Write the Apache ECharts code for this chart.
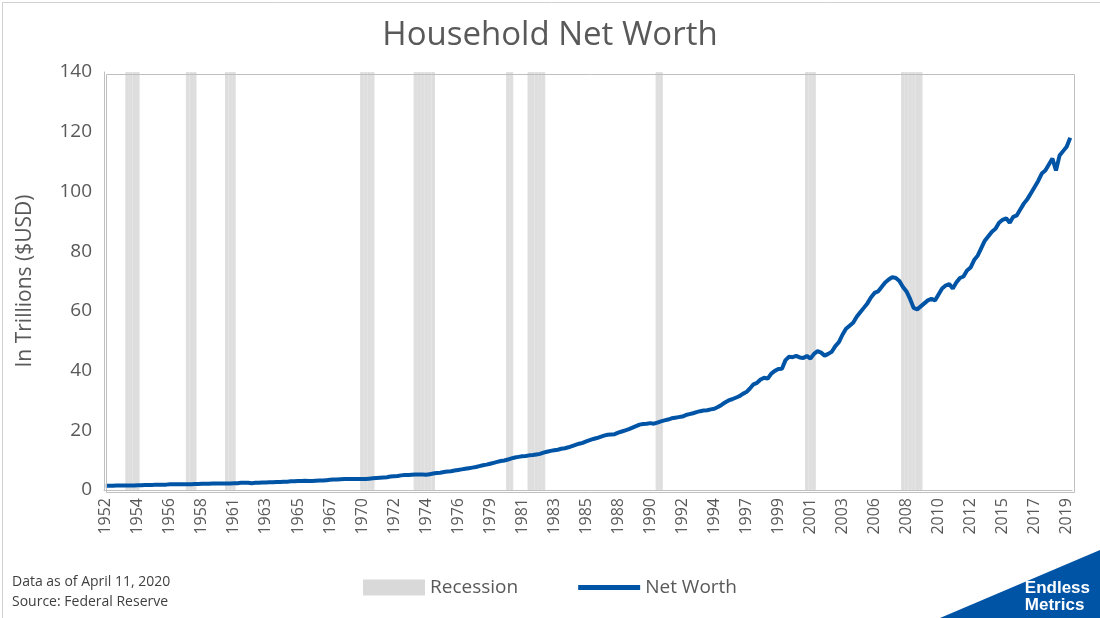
<!DOCTYPE html>
<html><head><meta charset="utf-8">
<script src="https://cdn.jsdelivr.net/npm/echarts@6/dist/echarts.min.js"></script>
<style>html,body{margin:0;padding:0;background:#fff}#c{width:1100px;height:618px}</style>
</head><body><div id="c"></div>
<script>
const startYear = 1952, endYear = 2019;
const netWorth = [
1.4,1.4,1.4,1.5, 1.5,1.5,1.5,1.5, 1.5,1.6,1.6,1.7, 1.7,1.7,1.8,1.8,
1.8,1.8,1.9,1.9, 1.9,1.9,1.9,1.9, 1.9,2.0,2.0,2.1, 2.1,2.1,2.2,2.2,
2.2,2.2,2.2,2.2, 2.3,2.3,2.4,2.4, 2.4,2.3,2.4,2.4, 2.5,2.5,2.6,2.6,
2.7,2.7,2.8,2.8, 2.9,2.9,3.0,3.0, 3.1,3.0,3.0,3.1, 3.2,3.2,3.3,3.4,
3.5,3.5,3.6,3.7, 3.7,3.7,3.7,3.7, 3.7,3.7,3.8,3.9, 4.0,4.1,4.2,4.3,
4.5,4.6,4.7,4.9, 5.0,5.0,5.1,5.2, 5.2,5.2,5.1,5.3, 5.5,5.7,5.8,6.0,
6.2,6.3,6.5,6.7, 6.9,7.1,7.3,7.5, 7.7,8.0,8.3,8.5, 8.8,9.1,9.4,9.7,
9.9,10.2,10.6,10.9, 11.1,11.3,11.4,11.6, 11.7,11.9,12.1,12.5, 12.8,13.1,13.3,13.5,
13.8,14.0,14.3,14.7, 15.1,15.5,15.8,16.3, 16.7,17.1,17.4,17.8, 18.2,18.5,18.6,18.7,
19.2,19.6,20.0,20.4, 20.9,21.4,21.9,22.1, 22.2,22.4,22.2,22.6, 23.0,23.3,23.6,24.0,
24.2,24.4,24.6,25.1, 25.4,25.7,26.1,26.4, 26.6,26.7,27.0,27.2, 27.8,28.5,29.3,30.0,
30.4,30.9,31.4,32.2, 32.8,34.0,35.4,35.9, 37.0,37.6,37.3,39.0, 39.9,40.5,40.6,43.5,
44.6,44.5,44.9,44.4, 44.2,44.9,44.0,45.6, 46.5,46.0,45.0,45.6, 46.3,48.2,49.5,52.0,
54.0,55.0,56.0,58.0, 59.5,61.0,62.5,64.5, 66.0,66.5,68.0,69.5, 70.5,71.3,71.0,70.0,
68.0,66.5,64.0,61.0, 60.5,61.5,62.5,63.5, 64.0,63.5,65.5,67.5, 68.5,69.0,67.5,69.5,
71.0,71.5,73.5,74.5, 77.0,78.5,81.0,83.5, 85.0,86.5,87.5,89.5, 90.5,91.0,89.5,91.5,
92.0,94.0,96.0,97.5, 99.5,101.5,103.5,106.0, 107.0,109.0,111.0,107.0, 112.0,113.5,115.0,118.0
];
// recession quarters [startYear, startQ, endYear, endQ]
const recessions = [
[1953,3,1954,2],[1957,4,1958,2],[1960,3,1961,1],[1970,1,1970,4],[1973,4,1975,1],
[1980,2,1980,3],[1981,4,1982,4],[1990,4,1991,1],[2001,2,2001,4],[2008,1,2009,2]
];
const yTicks = [0,20,40,60,80,100,120,140];

const categories = [];
for (let y = startYear; y <= endYear; y++) for (let q = 1; q <= 4; q++) categories.push(y + ' Q' + q);
const qi = (y,q) => (y-startYear)*4 + (q-1);
const recData = categories.map(() => null);
recessions.forEach(r => { for (let i = qi(r[0],r[1]); i <= qi(r[2],r[3]); i++) recData[i] = 140; });

const chart = echarts.init(document.getElementById('c'));
const gray = '#595959';
chart.setOption({
  animation:false,
  backgroundColor:'#fff',
  title:{text:'Household Net Worth',left:'center',top:14,textStyle:{fontFamily:'Open Sans',fontSize:33,fontWeight:'normal',color:gray}},
  grid:{left:104,right:28,top:72,bottom:128},
  legend:{bottom:16,left:'center',itemGap:60,textStyle:{fontFamily:'Open Sans',fontSize:19,color:gray},
    data:[{name:'Recession',icon:'rect',itemStyle:{color:'#d9d9d9',borderWidth:0}},{name:'Net Worth',icon:'path://M0,0H60V5H0Z'}],
    itemWidth:62,itemHeight:16},
  xAxis:{type:'category',data:categories,boundaryGap:true,
    axisLine:{lineStyle:{color:'#bfbfbf'}},axisTick:{show:false},
    axisLabel:{interval:8,rotate:90,color:gray,fontFamily:'Open Sans',fontSize:16,formatter:v=>v.slice(0,4)},
    splitLine:{show:false}},
  yAxis:{type:'value',min:0,max:140,interval:20,name:'In Trillions ($USD)',nameLocation:'middle',nameGap:68,
    nameTextStyle:{fontFamily:'Open Sans',fontSize:21,color:gray},
    axisLine:{show:true,lineStyle:{color:'#bfbfbf'}},axisTick:{show:false},
    axisLabel:{color:gray,fontFamily:'Open Sans',fontSize:19,margin:12,formatter:v=>yTicks.includes(v)?String(v):''},
    splitLine:{show:false}},
  series:[
    {name:'Recession',type:'bar',data:recData,barWidth:'100%',barGap:'-100%',itemStyle:{color:'#dedede',borderColor:'#dedede',borderWidth:1},silent:true,z:1},
    {name:'Net Worth',type:'line',data:netWorth,showSymbol:false,lineStyle:{color:'#0054a6',width:4},itemStyle:{color:'#0054a6'},z:3}
  ],
  graphic:[
    {type:'rect',left:104,top:72,shape:{width:968,height:418},style:{fill:'none',stroke:'#bfbfbf',lineWidth:1},z:10},
    {type:'rect',left:0,top:0,shape:{width:1099,height:617},style:{fill:'none',stroke:'#d0d0d0',lineWidth:1}},
    {type:'text',left:12,top:572,style:{text:'Data as of April 11, 2020\nSource: Federal Reserve',font:'14px "Open Sans"',fill:'#404040',lineHeight:20}},
    {type:'polygon',shape:{points:[[940,618],[1100,618],[1100,550]]},style:{fill:'#0054a6'}},
    {type:'text',right:10,top:580,style:{text:'Endless\nMetrics',font:'bold 17px "Liberation Sans"',fill:'#fff',align:'right',lineHeight:17}}
  ]
});
</script></body></html>
